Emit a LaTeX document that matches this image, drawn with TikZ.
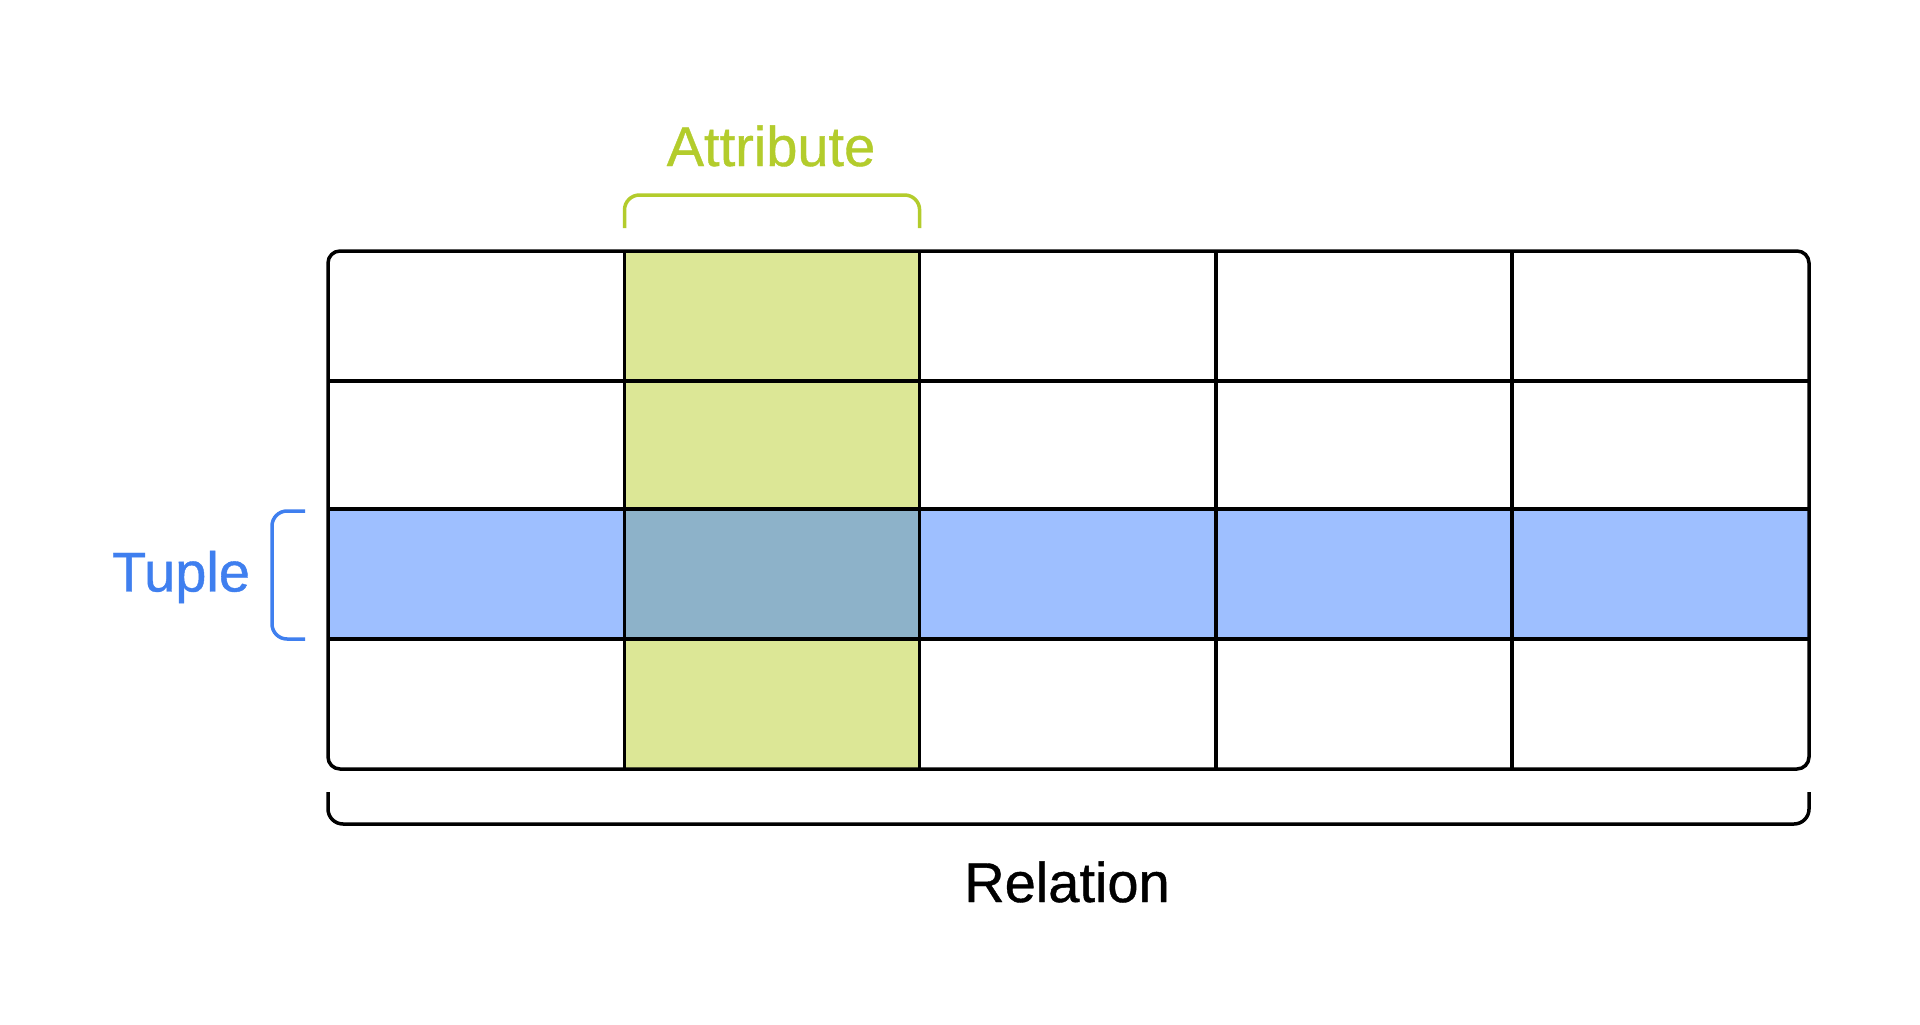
\documentclass[tikz,border=0pt]{standalone}
\usepackage{fontspec}
\setmainfont{Liberation Sans}
\newfontfamily\lblfont{Liberation Sans}[FakeBold=0.7]
\definecolor{attrtext}{HTML}{B3CC2C}
\definecolor{attrfill}{HTML}{DCE796}
\definecolor{tuplefill}{HTML}{9EBFFF}
\definecolor{overlapfill}{HTML}{8DB2C9}
\definecolor{tupletext}{HTML}{3F7FEF}
\tikzset{
  gridline/.style={line width=3.5pt, black},
  bracketline/.style={line width=3.5pt, rounded corners=15pt},
  lbl/.style={font=\lblfont\fontsize{56}{60}\selectfont, inner sep=0pt, anchor=center},
}
\begin{document}
\begin{tikzpicture}[x=1pt,y=-1pt]
\useasboundingbox (0,0) rectangle (1920,1025);
\fill[white] (0,0) rectangle (1920,1025);
% fills
\fill[attrfill] (624.5,251) rectangle (919.6,769);
\fill[tuplefill] (328,509) rectangle (1809,639);
\fill[overlapfill] (624.5,509) rectangle (919.6,639);
% grid
\foreach \x in {624.5,919.6,1216,1512} \draw[gridline] (\x,251) -- (\x,769);
\foreach \y in {381,509,639} \draw[gridline] (328,\y) -- (1809,\y);
\draw[gridline, rounded corners=12pt] (328,251) rectangle (1809,769);
% brackets
\coordinate (a1) at (624.5,228); \coordinate (a2) at (624.5,195);
\coordinate (a3) at (919.6,195); \coordinate (a4) at (919.6,228);
\draw[bracketline, attrtext] (a1) -- (a2) -- (a3) -- (a4);
\coordinate (t1) at (305,511); \coordinate (t2) at (272,511);
\coordinate (t3) at (272,639); \coordinate (t4) at (305,639);
\draw[bracketline, tupletext] (t1) -- (t2) -- (t3) -- (t4);
\coordinate (r1) at (328,792); \coordinate (r2) at (328,824);
\coordinate (r3) at (1809,824); \coordinate (r4) at (1809,792);
\draw[bracketline, black] (r1) -- (r2) -- (r3) -- (r4);
% labels
\node[lbl, text=attrtext] (attr) at (771,146) {Attribute};
\node[lbl, text=tupletext] (tuple) at (181,577) {Tuple};
\node[lbl, text=black] (rel) at (1067,882) {Relation};
\end{tikzpicture}
\end{document}
